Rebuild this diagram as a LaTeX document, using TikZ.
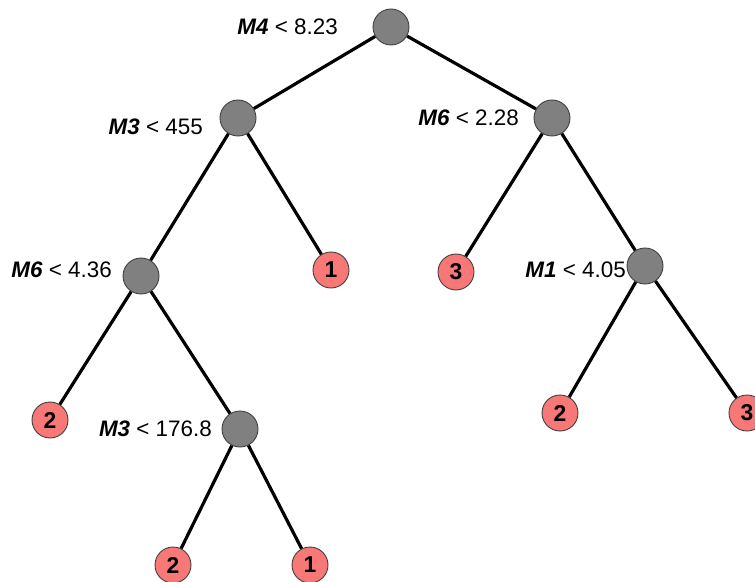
\documentclass[tikz,border=0pt]{standalone}
\usepackage{fontspec}
\setmainfont{Liberation Sans}
\begin{document}
\begin{tikzpicture}[x=1bp,y=-1bp,
  split/.style={circle,draw=black!75,fill=black!50,line width=0.9bp,minimum size=36bp,inner sep=0pt},
  leaf/.style={circle,draw=black!75,fill={rgb,255:red,248;green,120;blue,120},line width=0.9bp,minimum size=36bp,inner sep=0pt,font=\fontsize{23}{23}\selectfont\bfseries},
  lbl/.style={anchor=east,inner sep=0pt,font=\fontsize{22.5}{22.5}\selectfont},
  edge/.style={line width=3.2bp,black}]
\useasboundingbox (0,0) rectangle (755,582);
\node[split] (r) at (391,27) {};
\node[split] (a) at (238,118) {};
\node[split] (b) at (552,118) {};
\node[split] (c) at (141,276) {};
\node[leaf] (l1) at (331,270) {1};
\node[leaf] (l2) at (456,272) {3};
\node[split] (d) at (645,266) {};
\node[leaf] (l3) at (50,420) {2};
\node[split] (e) at (240,429) {};
\node[leaf] (l4) at (560,413) {2};
\node[leaf] (l5) at (747,413) {3};
\node[leaf] (l6) at (173,565) {2};
\node[leaf] (l7) at (310,565) {1};
\draw[edge] (r) -- (a);
\draw[edge] (r) -- (b);
\draw[edge] (a) -- (c);
\draw[edge] (a) -- (l1);
\draw[edge] (b) -- (l2);
\draw[edge] (b) -- (d);
\draw[edge] (c) -- (l3);
\draw[edge] (c) -- (e);
\draw[edge] (d) -- (l4);
\draw[edge] (d) -- (l5);
\draw[edge] (e) -- (l6);
\draw[edge] (e) -- (l7);
\node[lbl] (tr) at (338,27) {\textbf{\textit{M4}} < 8.23};
\node[lbl] (ta) at (203,127) {\textbf{\textit{M3}} < 455};
\node[lbl] (tb) at (519,118) {\textbf{\textit{M6}} < 2.28};
\node[lbl] (tc) at (112,270) {\textbf{\textit{M6}} < 4.36};
\node[lbl] (td) at (626,270) {\textbf{\textit{M1}} < 4.05};
\node[lbl] (te) at (212,429) {\textbf{\textit{M3}} < 176.8};
\end{tikzpicture}
\end{document}
